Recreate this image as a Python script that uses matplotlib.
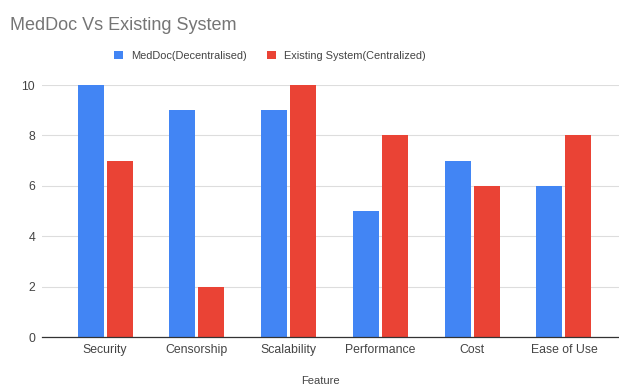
import matplotlib.pyplot as plt
import numpy as np

plt.rcParams['font.family'] = ['Liberation Sans', 'DejaVu Sans']

features = ['Security', 'Censorship', 'Scalability', 'Performance', 'Cost', 'Ease of Use']
meddoc = [10, 9, 9, 5, 7, 6]
existing = [7, 2, 10, 8, 6, 8]
series_names = ['MedDoc(Decentralised)', 'Existing System(Centralized)']
y_ticks = [0, 2, 4, 6, 8, 10]

blue = '#4285F4'
red = '#EA4335'

fig = plt.figure(figsize=(6.19, 3.89), dpi=100)
ax = fig.add_axes([42 / 619, 1 - 337 / 389, 577 / 619, 252 / 389])

x = np.arange(len(features))
w = 0.283
ax.bar(x - 0.158, meddoc, width=w, color=blue, label=series_names[0], zorder=3)
ax.bar(x + 0.158, existing, width=w, color=red, label=series_names[1], zorder=3)

ax.set_xlim(-0.687, 5.6)
ax.set_ylim(0, 10)
ax.set_yticks(y_ticks)
ax.set_xticks(x)
ax.set_xticklabels(features)
ax.tick_params(axis='both', length=0, labelsize=8.8, colors='#444444')
ax.tick_params(axis='y', pad=5)
ax.tick_params(axis='x', pad=5)
ax.grid(axis='y', color='#dddddd', linewidth=0.8, zorder=0)
for s in ['top', 'right', 'left']:
    ax.spines[s].set_visible(False)
ax.spines['bottom'].set_color('#333333')
ax.spines['bottom'].set_linewidth(0.9)
ax.spines['bottom'].set_zorder(4)

ax.set_xlabel('Feature', fontsize=8, color='#444444', va='center')
ax.xaxis.set_label_coords(0.483, -44 / 252)

fig.text(10 / 619, 1 - 26 / 389, 'MedDoc Vs Existing System', fontsize=13,
         color='#757575', va='center', ha='left')

fig.legend(loc='center', bbox_to_anchor=(270 / 619, 1 - 56 / 389), ncol=2,
           frameon=False, fontsize=7.9, handlelength=0.8, handleheight=0.8,
           handletextpad=0.8, columnspacing=1.8, labelcolor='#444444')

fig.savefig('out.png', dpi=100)
